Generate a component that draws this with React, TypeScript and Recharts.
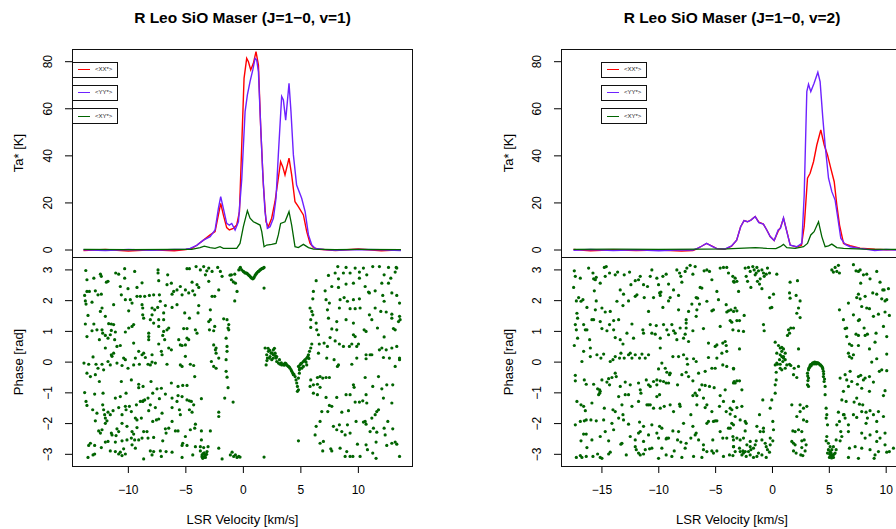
import { LineChart, Line, ScatterChart, Scatter, XAxis, YAxis } from 'recharts';

const FONT = '"Liberation Sans", Arial, Helvetica, sans-serif';
const RED = '#ff0000';
const PURPLE = '#6e22ff';
const GREEN = '#006400';

// ---- spectra: [LSR velocity km/s, Ta* K] ----
const XX_V1 = [
  [-13.9, -0.2], [-12, 0.2], [-10, -0.4], [-8, 0.1], [-6, -0.3], [-5, 0.2], [-4.5, 0.6], [-4.05, 2.0],
  [-3.47, 4.2], [-2.89, 6.4], [-2.46, 7.8], [-2.17, 14.9], [-1.97, 19.8], [-1.74, 14.9], [-1.45, 9.5],
  [-1.22, 8.5], [-0.87, 9.2], [-0.58, 10.6], [-0.34, 16.3], [-0.14, 44.6], [0.06, 72.9], [0.29, 81.4],
  [0.44, 80], [0.64, 76.5], [0.87, 79.3], [1.1, 84.3], [1.31, 78.6], [1.51, 51.7], [1.74, 27.6],
  [1.97, 12], [2.17, 9.9], [2.46, 13.5], [2.75, 20.5], [3.04, 30.5], [3.24, 37.5], [3.42, 35.4],
  [3.62, 31.9], [3.97, 39], [4.2, 31.9], [4.49, 20.5], [4.78, 18.4], [5.22, 14.9], [5.51, 7.8],
  [5.8, 2.8], [6.1, 1.0], [6.6, 0.3], [8, -0.2], [10, 0.4], [12, -0.3], [13.7, 0.1],
];
const YY_V1 = [
  [-13.9, 0.1], [-12, -0.2], [-10, 0.2], [-8, -0.1], [-6, 0.2], [-5, 0.3], [-4.63, 0.7], [-4.05, 2.0],
  [-3.47, 4.2], [-2.89, 5.7], [-2.46, 8.5], [-2.17, 17.7], [-1.97, 22.7], [-1.74, 17.7], [-1.45, 11.3],
  [-1.22, 10.6], [-1.01, 11.3], [-0.72, 8.5], [-0.43, 12], [-0.14, 30], [0.15, 58.8], [0.35, 65.9],
  [0.58, 71.5], [0.82, 76.5], [1.02, 81.4], [1.16, 80.7], [1.31, 75.8], [1.45, 58.8], [1.68, 33.3],
  [1.88, 16.3], [2.09, 9.2], [2.32, 9.9], [2.61, 13.5], [2.84, 22], [3.04, 40.4], [3.33, 65.2],
  [3.48, 63.7], [3.68, 55.2], [3.97, 70.8], [4.14, 58.8], [4.35, 40.4], [4.63, 27.6], [5.07, 22],
  [5.37, 16.3], [5.66, 6.4], [5.95, 2.1], [6.24, 0.7], [7, 0.2], [8, -0.1], [10, 0.2], [12, 0.1], [13.7, -0.2],
];
const XY_V1 = [
  [-13.9, 0.3], [-10, 0.2], [-6, 0.3], [-4.5, 0.3], [-3.76, 1.0], [-3.4, 1.6], [-2.89, 1.0], [-2.46, 0.7],
  [-2.03, 1.4], [-1.74, 0.7], [-0.58, 0.7], [-0.29, 2.8], [0.0, 9.9], [0.35, 16.7], [0.58, 13.5],
  [0.87, 12], [1.16, 11.3], [1.45, 10.6], [1.6, 7.8], [1.8, 1.4], [2.03, 2.1], [2.46, 2.4], [2.84, 2.8],
  [3.04, 6.4], [3.24, 11.3], [3.62, 12], [3.97, 16.3], [4.2, 10.6], [4.49, 1.4], [4.78, 1.0],
  [5.22, 2.4], [5.66, 1.0], [6.1, 0.4], [8, 0.2], [10, 0.3], [13.7, 0.2],
];

const XX_V2 = [
  [-17.5, 0.2], [-16, -0.3], [-14, 0.1], [-12, -0.2], [-10, 0.0], [-8, -0.4], [-7, -0.2], [-6.65, 0.5],
  [-6.2, 1.7], [-5.8, 2.8], [-5.35, 1.8], [-4.9, 0.6], [-4.2, 0.3], [-3.6, 1.6], [-3.15, 4.2],
  [-2.8, 9.9], [-2.5, 12.5], [-2.2, 12], [-1.9, 12.7], [-1.52, 14.2], [-1.2, 11.8], [-0.8, 11],
  [-0.5, 8.5], [-0.2, 5.7], [0.15, 4.0], [0.5, 8.0], [0.7, 9.5], [0.97, 13.5], [1.26, 8], [1.56, 2.1],
  [2.1, 1.3], [2.55, 2.0], [2.79, 10], [2.88, 16.3], [3.08, 30.5], [3.31, 32.6], [3.61, 37.5],
  [3.9, 44.6], [4.25, 51], [4.55, 44.6], [4.84, 40.4], [5.13, 34.7], [5.43, 29], [5.66, 19.1],
  [5.9, 10.6], [6.25, 2.8], [6.83, 1.8], [7.7, 0.8], [9, 0.3], [10, 0.1], [11.2, 0.2],
];
const YY_V2 = [
  [-17.5, -0.1], [-16, 0.2], [-14, -0.2], [-12, 0.1], [-10, -0.3], [-8, 0.1], [-7, 0.0], [-6.65, 0.6],
  [-6.2, 1.7], [-5.8, 2.8], [-5.35, 1.7], [-4.9, 0.6], [-4.2, 0.4], [-3.6, 1.7], [-3.15, 4.2],
  [-2.8, 9.9], [-2.5, 12.5], [-2.2, 12], [-1.9, 12.7], [-1.52, 14.2], [-1.2, 11.6], [-0.8, 11],
  [-0.5, 8.5], [-0.2, 5.7], [0.15, 4.0], [0.5, 8.5], [0.7, 9.2], [0.97, 13.7], [1.26, 7.8], [1.56, 2.1],
  [2.14, 1.4], [2.58, 2.8], [2.79, 23.4], [3.02, 67.3], [3.17, 70.4], [3.37, 67.3], [3.66, 70.8],
  [3.99, 75.5], [4.19, 71.5], [4.43, 55.9], [4.63, 44.6], [4.93, 30.5], [5.22, 24.8], [5.51, 21.2],
  [5.75, 13.5], [6.01, 5], [6.39, 2.4], [6.83, 1.4], [7.7, 0.7], [9, -0.2], [10, 0.2], [11.2, -0.1],
];
const XY_V2 = [
  [-17.5, 0.3], [-14, 0.4], [-10, 0.3], [-6, 0.4], [-4, 0.5], [-2.5, 0.8], [-1.5, 1.0], [-0.5, 0.7],
  [0.3, 0.6], [0.68, 1.4], [0.97, 2.4], [1.26, 1.0], [2.0, 0.7], [2.73, 1.4], [3.08, 2.8], [3.37, 6.4],
  [3.66, 7.8], [4.05, 12], [4.34, 5.7], [4.63, 1.4], [4.93, 1.8], [5.22, 2.5], [5.66, 1.0], [6.25, 0.7],
  [8, 0.4], [11.2, 0.3],
];

// ---- cross-correlation phase: [LSR velocity km/s, phase rad] ----
const PHASE_V1 = [
  [-13.7, 2.98], [-11.1, 2.9], [-10.84, 2.86], [-10.32, 3.04], [-9.45, 2.95], [-7.42, 3.0], [-7.42, 2.9], [-6.58, 2.84],
  [-4.9, 3.04], [-4.69, 3.04], [-4.11, 3.11], [-3.74, 3.0], [-3.45, 3.11], [-3.18, 2.97], [-3.01, 3.06], [-2.72, 2.95],
  [-2.23, 3.08], [-2.0, 2.95], [-1.85, 2.79], [-0.75, 2.86], [-0.4, 3.0], [-0.26, 3.08], [-1.04, 2.84],
  [-13.6, 2.68], [-13.0, 2.73], [-12.35, 2.79], [-12.43, 2.86], [-11.91, 2.6], [-11.77, 2.63], [-10.7, 2.46], [-10.32, 2.73],
  [-10.03, 2.39], [-9.25, 2.43], [-8.81, 2.58], [-7.36, 2.65], [-6.64, 2.52], [-6.26, 2.57], [-6.06, 2.3], [-5.77, 2.35],
  [-5.48, 2.46], [-5.04, 2.35], [-4.46, 2.6], [-4.4, 2.32], [-4.03, 2.52], [-3.88, 2.43], [-3.3, 2.84], [-3.01, 2.63],
  [-2.14, 2.35], [-1.04, 2.68], [-0.69, 2.57], [-0.55, 2.3], [-1.16, 2.83], [-0.87, 2.61],
  [-13.8, 2.17], [-13.6, 2.3], [-13.74, 1.99], [-13.39, 2.3], [-12.87, 2.32], [-12.64, 2.19], [-12.35, 2.21], [-10.61, 2.19],
  [-10.26, 2.03], [-9.83, 2.03], [-9.68, 1.92], [-9.25, 2.14], [-8.96, 2.14], [-8.58, 2.14], [-8.17, 2.17], [-7.8, 2.19],
  [-7.22, 1.98], [-7.3, 2.19], [-6.2, 2.21], [-5.33, 2.19], [-4.75, 2.25], [-4.23, 2.19], [-2.72, 2.14], [-2.49, 2.14], [-0.75, 1.99],
  [-13.68, 1.89], [-13.16, 1.95], [-12.29, 1.76], [-12.43, 1.65], [-11.28, 1.87], [-12.0, 1.49], [-9.97, 1.67], [-8.81, 1.87],
  [-8.75, 1.76], [-7.94, 1.76], [-7.71, 1.7], [-7.45, 1.78], [-8.75, 1.54], [-7.94, 1.54], [-6.78, 1.84], [-6.93, 1.6],
  [-6.2, 1.78], [-5.77, 1.87], [-5.1, 1.6], [-4.69, 1.43], [-3.88, 1.84], [-3.94, 1.6], [-2.87, 1.7], [-2.87, 1.38],
  [-1.71, 1.41], [-1.42, 1.38],
  [-13.51, 1.52], [-8.67, 1.43], [-8.09, 1.38], [-7.36, 1.38], [-7.8, 1.27], [-6.93, 1.38], [-13.74, 1.24], [-13.0, 1.24],
  [-11.71, 1.25], [-11.48, 1.24], [-11.28, 1.22], [-9.68, 1.16], [-9.54, 1.22], [-9.97, 1.11], [-7.36, 1.16], [-6.49, 1.11],
  [-11.48, 1.03], [-12.23, 0.94], [-13.16, 1.02], [-12.73, 1.05], [-12.29, 1.05], [-12.0, 0.87], [-11.13, 0.98], [-10.26, 0.98],
  [-8.23, 0.94], [-6.93, 1.0], [-6.64, 1.05], [-5.19, 1.09], [-4.9, 1.09], [-4.17, 1.05], [-4.03, 0.94], [-3.01, 1.32],
  [-2.95, 1.05], [-2.49, 1.16], [-2.58, 1.02], [-1.27, 1.22], [-1.33, 1.11], [-1.27, 1.05],
  [-13.6, 0.83], [-12.52, 0.73], [-11.77, 0.78], [-11.57, 0.89], [-11.19, 0.73], [-10.99, 0.51], [-10.7, 0.54], [-9.54, 0.62],
  [-8.23, 0.83], [-8.23, 0.73], [-7.36, 0.59], [-7.01, 0.87], [-6.84, 0.73], [-5.62, 0.73], [-5.48, 0.56], [-5.33, 0.54],
  [-4.9, 0.78], [-4.75, 0.73], [-5.04, 0.56], [-2.58, 0.56], [-1.5, 0.78], [-1.42, 0.51], [-2.37, 0.46],
  [-12.0, 0.46], [-11.48, 0.24], [-11.28, 0.29], [-11.42, 0.19], [-10.41, 0.13], [-10.26, 0.08], [-9.39, 0.13], [-9.1, 0.35],
  [-8.81, 0.24], [-8.67, 0.29], [-8.52, 0.15], [-7.94, 0.24], [-7.07, 0.24], [-7.13, 0.35], [-6.49, 0.46], [-6.26, 0.4],
  [-5.04, 0.19], [-2.43, 0.4], [-2.37, 0.29], [-2.14, 0.13], [-1.42, 0.35], [-1.5, 0.08],
  [-13.86, -0.03], [-13.45, -0.07], [-13.07, 0.17], [-12.81, -0.07], [-12.64, -0.2], [-12.29, -0.07], [-11.77, 0.02], [-11.57, -0.09],
  [-10.99, -0.03], [-10.55, -0.11], [-10.03, -0.2], [-9.54, -0.09], [-9.04, -0.07], [-8.29, -0.07], [-8.09, -0.09], [-7.94, 0.0],
  [-7.65, -0.03], [-6.64, -0.07], [-5.48, -0.09], [-5.33, -0.14], [-4.61, -0.07], [-4.32, -0.11], [-2.78, 0.02], [-2.58, -0.14],
  [-2.37, -0.2], [-1.5, -0.3], [-13.6, -0.36], [-13.3, -0.47], [-12.87, -0.41], [-12.15, -0.25],
  [-12.52, -0.63], [-10.61, -0.63], [-9.74, -0.58], [-9.1, -0.72], [-8.72, -0.79], [-8.03, -0.63], [-7.51, -0.87], [-7.13, -0.85],
  [-6.26, -0.68], [-5.68, -0.79], [-5.27, -0.76], [-4.9, -0.76], [-4.23, -0.47], [-1.42, -0.49],
  [-13.8, -0.99], [-12.93, -1.04], [-12.2, -1.01], [-13.68, -1.28], [-13.6, -1.41], [-11.13, -1.17], [-10.7, -1.12], [-10.2, -1.01],
  [-9.1, -0.83], [-8.75, -1.28], [-8.58, -1.23], [-8.29, -1.17], [-7.88, -1.01], [-7.3, -1.19], [-6.78, -1.04], [-6.2, -1.17],
  [-5.68, -1.09], [-5.77, -1.28], [-5.33, -1.12], [-4.9, -1.23], [-4.69, -1.26], [-4.52, -1.28], [-4.32, -1.39], [-3.65, -1.19],
  [-1.62, -1.17], [-0.89, -1.3], [-1.33, -0.83],
  [-13.1, -1.55], [-12.73, -1.66], [-12.23, -1.39], [-12.15, -1.55], [-12.06, -1.71], [-11.77, -1.63], [-11.33, -1.58], [-10.84, -1.48],
  [-10.26, -1.44], [-10.2, -1.55], [-9.91, -1.44], [-9.74, -1.61], [-9.3, -1.39], [-8.96, -1.28], [-8.72, -1.26], [-8.23, -1.58],
  [-8.09, -1.39], [-7.65, -1.48], [-7.07, -1.66], [-6.2, -1.48], [-5.56, -1.55], [-5.48, -1.71], [-4.69, -1.55], [-4.46, -1.63],
  [-2.14, -1.63], [-2.14, -1.77], [-12.87, -1.91], [-12.0, -1.82], [-11.86, -1.91], [-11.57, -1.71], [-10.55, -1.71], [-9.39, -1.82],
  [-9.25, -1.88], [-8.87, -1.82], [-7.88, -1.93], [-7.56, -1.88], [-7.36, -1.85],
  [-12.58, -2.24], [-12.29, -2.2], [-12.0, -1.99], [-11.48, -2.31], [-10.99, -2.17], [-10.84, -2.26], [-10.55, -1.99], [-10.12, -2.09],
  [-9.68, -2.26], [-9.54, -2.34], [-8.67, -2.26], [-9.25, -2.13], [-8.38, -2.26], [-6.78, -2.17], [-6.49, -2.15], [-6.2, -1.93],
  [-5.91, -2.24], [-5.68, -2.24], [-4.61, -2.2], [-4.23, -2.15], [-4.17, -2.02], [-3.65, -2.24], [-2.87, -2.24],
  [-12.43, -2.31], [-11.42, -2.37], [-11.07, -2.39], [-11.13, -2.6], [-10.55, -2.56], [-10.12, -2.53], [-9.74, -2.47], [-9.45, -2.53],
  [-9.1, -2.53], [-8.81, -2.47], [-8.29, -2.47], [-7.8, -2.45], [-7.01, -2.56], [-6.72, -2.31], [-5.04, -2.42], [-5.27, -2.64],
  [-4.17, -2.75], [-3.65, -2.53],
  [-13.3, -2.64], [-13.45, -2.71], [-12.93, -2.71], [-12.35, -2.78], [-12.0, -2.6], [-11.77, -2.58], [-11.57, -2.89], [-11.13, -2.91],
  [-10.84, -2.99], [-10.55, -3.04], [-10.41, -2.82], [-10.7, -2.93], [-10.26, -2.99], [-9.68, -2.69], [-9.39, -2.8], [-8.09, -2.89],
  [-7.8, -2.91], [-7.22, -2.89], [-6.72, -2.91], [-6.2, -2.93], [-5.33, -2.71], [-4.9, -2.71], [-4.4, -3.02], [-3.74, -2.75],
  [-3.74, -2.89], [-3.59, -3.02], [-3.45, -3.1], [-3.3, -3.02], [-3.16, -2.91], [-3.45, -2.78], [-3.07, -2.75], [-2.14, -2.8],
  [-1.85, -3.15], [-1.13, -3.02], [-0.98, -2.93], [-0.84, -3.07], [-0.69, -3.02], [-0.55, -3.1], [-0.4, -3.07], [-13.51, -3.1],
  [-13.07, -3.02], [-12.93, -2.99], [-8.67, -3.15], [-7.94, -3.02], [-7.13, -3.07], [-5.33, -3.1], [-3.53, -3.13],
  [-3.4, -2.95], [-3.35, -3.05], [-3.5, -2.98], [-3.3, -3.1], [-3.6, -3.08], [-3.2, -3.0],
  // coherent emission near 0-2 km/s
  [-0.29, 3.06], [-0.14, 3.0], [0.0, 2.95], [0.07, 2.93], [0.15, 2.9], [0.22, 2.9], [0.29, 2.9], [0.36, 2.87], [0.44, 2.84],
  [0.5, 2.82], [0.58, 2.79], [0.65, 2.76], [0.73, 2.73], [0.82, 2.71], [0.88, 2.73], [0.93, 2.76], [1.02, 2.82], [1.09, 2.86],
  [1.16, 2.9], [1.24, 2.93], [1.31, 2.95], [1.38, 2.97], [1.45, 3.0], [1.53, 3.02], [1.6, 3.04], [1.67, 3.05], [1.74, 3.06],
  [1.8, 3.08], [1.8, 2.41], [4.79, -2.56], [1.8, -3.09], [-0.29, -3.09],
  // coherent emission near 2-6 km/s
  [1.89, 0.46], [2.03, 0.24], [1.98, -0.09], [2.18, 0.35], [2.32, 0.18], [2.47, 0.08], [2.61, 0.4], [2.76, 0.29], [2.61, 0.13],
  [2.85, 0.13], [2.9, 0.02], [3.05, -0.03], [3.19, -0.07], [3.34, -0.09], [3.48, -0.07], [3.63, -0.03], [3.77, -0.09], [3.92, -0.14],
  [4.06, -0.2], [4.21, -0.3], [4.3, -0.36], [4.35, -0.41], [4.5, -0.47], [4.58, -0.58], [4.64, -0.68], [4.7, -0.79], [4.79, -0.9],
  [4.7, -0.95], [4.79, -0.52], [4.87, -0.25], [4.93, -0.09], [5.08, -0.03], [5.22, 0.02], [5.37, 0.08], [5.51, 0.13], [5.66, 0.24],
  [5.75, 0.35], [5.86, 0.46], [5.95, 0.59], [5.22, -0.14], [5.51, -0.09], [5.08, -0.2], [2.61, 0.24], [2.26, 0.13], [2.09, 0.13],
  [2.41, 0.29], [2.9, 0.18], [3.14, 0.08], [4.79, -0.14], [4.87, -0.36], [2.05, 0.05], [2.15, 0.45], [2.3, 0.38], [2.5, 0.3],
  [2.7, 0.45], [2.8, 0.2], [3.3, -0.02], [3.55, -0.1], [3.7, -0.05], [3.85, -0.12], [4.0, -0.16], [4.15, -0.25], [4.4, -0.4],
  [5.0, -0.05], [5.3, 0.05], [5.45, 0.0], [5.6, 0.18], [5.7, 0.12], [4.9, -0.2],
  // noise above 6 km/s
  [8.21, 3.11], [8.93, 3.08], [9.72, 3.06], [10.44, 3.06], [11.25, 3.11], [11.83, 3.11], [12.62, 3.08], [13.29, 3.08], [7.4, 2.82],
  [7.98, 2.9], [8.7, 2.9], [9.28, 2.9], [10.09, 2.93], [10.73, 2.84], [12.24, 2.84], [13.2, 2.93], [13.34, 3.06], [8.27, 2.71],
  [8.93, 2.54], [9.57, 2.57], [10.09, 2.73], [12.04, 2.57], [12.62, 2.57], [12.82, 2.73], [6.33, 2.65], [7.11, 2.32], [7.69, 2.46],
  [8.27, 2.43], [10.88, 2.28], [11.46, 2.32], [10.96, 2.25], [6.09, 2.3], [6.04, 2.06], [7.19, 2.03], [7.48, 1.92], [8.41, 2.03],
  [8.76, 2.1], [9.05, 1.98], [9.57, 2.03], [10.09, 2.06], [10.59, 2.46], [12.12, 2.17], [12.24, 1.98], [12.91, 2.25], [13.34, 2.17],
  [13.58, 1.92], [5.8, 1.76], [5.95, 1.65], [7.31, 1.7], [8.35, 1.76], [9.28, 1.74], [9.72, 1.74], [10.15, 1.76], [11.46, 1.76],
  [11.95, 1.65], [12.42, 1.63], [12.91, 1.56], [13.58, 1.49], [13.63, 1.38], [5.86, 1.38], [6.04, 1.54], [7.4, 1.43], [8.12, 1.32],
  [8.93, 1.38], [9.57, 1.27], [10.96, 1.54], [11.17, 1.38], [12.91, 1.43], [13.49, 1.32], [6.33, 1.27], [6.38, 1.05], [6.53, 0.89],
  [5.86, 1.13], [7.69, 1.08], [8.12, 1.05], [9.57, 0.89], [9.72, 0.83], [10.5, 1.05], [10.67, 1.0], [11.66, 1.11], [12.24, 0.82],
  [13.2, 1.05], [13.05, 1.09], [6.6, 0.59], [7.02, 0.62], [7.31, 0.51], [7.54, 0.8], [7.98, 0.69], [8.35, 0.59], [8.7, 0.51],
  [9.22, 0.51], [9.43, 0.59], [9.86, 0.51], [10.01, 0.59], [10.67, 0.24], [11.02, 0.24], [11.83, 0.4], [12.04, 0.46], [12.42, 0.4],
  [12.91, 0.46], [13.58, 0.08], [13.34, 0.51], [6.53, 0.29], [7.25, 0.13], [7.89, 0.08], [8.27, -0.09], [8.18, -0.14], [9.43, -0.07],
  [9.86, 0.13], [10.67, 0.11], [11.17, 0.24], [12.18, 0.15], [12.7, 0.13], [13.2, -0.14], [13.58, 0.13], [5.8, -0.79], [5.86, -0.58],
  [6.09, -0.74], [6.44, -0.5], [6.67, -0.47], [6.9, -0.52], [7.19, -0.5], [7.48, -0.5], [6.44, -0.72], [6.67, -0.82], [6.09, -1.01],
  [6.44, -1.06], [7.19, -1.15], [8.12, -1.15], [8.93, -1.06], [9.28, -1.06], [9.57, -0.74], [9.63, -0.82], [10.59, -0.5],
  [10.67, -1.06], [11.25, -0.79], [11.75, -0.47], [12.04, -0.87], [12.18, -1.17], [12.47, -0.74], [12.99, -0.74], [12.91, -1.33],
  [7.48, -1.41], [7.69, -1.44], [7.34, -1.61], [6.82, -1.61], [8.56, -1.63], [9.14, -1.58], [9.72, -1.3], [10.09, -1.3], [10.38, -1.26],
  [10.73, -1.33], [11.6, -1.61], [11.75, -1.55], [11.46, -1.71], [11.17, -1.82], [10.59, -1.93], [11.31, -2.15], [12.24, -2.15],
  [12.56, -1.93], [12.99, -2.17], [6.33, -2.09], [6.24, -2.37], [6.67, -1.93], [7.83, -2.09], [8.12, -2.2], [8.35, -2.04],
  [8.56, -2.26], [9.05, -2.04], [8.85, -2.37], [9.28, -2.31], [9.8, -1.93], [10.44, -1.95], [10.67, -2.02], [11.02, -2.26],
  [11.6, -2.28], [12.33, -2.37], [6.67, -2.64], [6.96, -2.58], [6.9, -2.89], [7.6, -2.82], [7.69, -2.89], [8.41, -2.8], [8.99, -2.91],
  [9.28, -3.07], [9.92, -2.67], [10.15, -3.07], [10.67, -2.69], [10.79, -2.85], [11.25, -2.96], [11.54, -2.6], [11.54, -3.13],
  [12.47, -2.71], [12.91, -2.64], [13.2, -2.6], [13.34, -2.67], [13.58, -3.07], [8.85, -3.07], [9.52, -3.07],
];

const PHASE_V2 = [
  [-17.43, 2.97], [-17.34, 2.79], [-17.49, 2.43], [-16.9, 2.73], [-16.17, 3.06], [-15.79, 2.9], [-15.73, 2.71], [-15.58, 2.68],
  [-15.5, 2.76], [-15.67, 2.32], [-15.15, 2.57], [-14.79, 3.08], [-14.62, 3.11], [-14.71, 2.79], [-14.33, 2.9], [-13.83, 2.84],
  [-13.62, 2.93], [-13.39, 2.35], [-13.04, 2.84], [-13.1, 2.21], [-12.57, 2.93], [-12.45, 2.52], [-12.07, 2.65], [-11.78, 2.68],
  [-11.63, 2.79], [-11.34, 2.52], [-10.99, 2.46], [-10.75, 2.79], [-10.61, 3.0], [-10.17, 2.73], [-10.02, 2.52], [-9.93, 2.25],
  [-9.87, 2.17], [-9.64, 2.79], [-9.35, 2.86], [-9.14, 2.54], [-8.7, 2.35], [-8.41, 3.0], [-8.17, 2.9], [-8.06, 2.79], [-7.97, 2.6],
  [-7.68, 2.95], [-7.53, 3.06], [-7.24, 3.15], [-7.0, 2.86], [-6.8, 3.11], [-6.36, 2.43], [-6.21, 2.41], [-6.01, 2.97], [-5.77, 3.0],
  [-5.54, 2.95], [-5.33, 2.68], [-4.89, 2.3], [-4.6, 3.06], [-4.31, 3.08], [-4.02, 3.08], [-3.87, 2.9], [-3.49, 2.79], [-3.37, 2.6],
  [-17.25, 1.99], [-17.05, 2.1], [-16.84, 1.98], [-16.67, 2.03], [-16.32, 1.78], [-15.5, 1.99], [-15.58, 1.7], [-15.0, 1.76],
  [-14.71, 1.63], [-14.27, 1.65], [-13.68, 1.98], [-13.15, 1.84], [-12.66, 1.99], [-12.07, 2.14], [-11.92, 2.19], [-11.28, 2.1],
  [-10.9, 1.65], [-10.46, 2.1], [-9.81, 2.28], [-9.64, 1.78], [-9.14, 1.99], [-9.0, 2.1], [-8.26, 1.7], [-8.26, 2.17], [-7.38, 1.65],
  [-7.09, 1.89], [-6.71, 2.1], [-6.59, 2.08], [-6.42, 1.89], [-6.71, 1.49], [-6.65, 1.7], [-5.77, 1.98], [-5.33, 1.67], [-5.19, 1.7],
  [-4.75, 2.03], [-4.07, 1.87], [-4.02, 1.63], [-3.87, 1.67], [-3.66, 1.7],
  [-17.2, 1.59], [-17.14, 1.43], [-17.34, 1.22], [-17.25, 1.05], [-17.14, 0.78], [-17.43, 0.54], [-16.61, 1.22], [-16.46, 1.05],
  [-16.32, 1.05], [-15.88, 1.38], [-15.73, 1.38], [-16.08, 0.73], [-16.02, 0.46], [-15.15, 1.32], [-15.0, 1.09], [-14.56, 1.02],
  [-14.33, 1.22], [-13.97, 1.35], [-13.53, 1.38], [-13.97, 1.05], [-13.83, 0.8], [-13.39, 0.73], [-13.15, 0.59], [-12.8, 0.94],
  [-12.36, 1.24], [-12.22, 0.78], [-11.4, 1.05], [-11.34, 0.94], [-10.75, 1.22], [-10.61, 0.94], [-10.31, 0.91], [-10.22, 1.19],
  [-9.87, 0.78], [-9.87, 0.46], [-9.58, 1.22], [-9.29, 1.05], [-9.14, 0.89], [-8.7, 1.02], [-8.56, 0.94], [-8.41, 0.73], [-8.85, 1.22],
  [-8.12, 1.11], [-7.82, 0.78], [-7.68, 0.91], [-7.59, 1.11], [-7.59, 1.27], [-7.59, 1.38], [-7.38, 0.67], [-7.0, 1.02], [-6.07, 1.09],
  [-5.63, 0.62], [-5.04, 0.51], [-4.89, 0.56], [-4.6, 1.16], [-4.37, 0.62], [-4.16, 0.67], [-4.07, 0.54], [-3.58, 1.3], [-4.02, 0.35],
  [-16.76, 0.02], [-16.61, 0.35], [-16.02, 0.18], [-15.44, 0.24], [-15.09, 0.13], [-14.85, 0.26], [-14.27, 0.02], [-14.03, 0.08],
  [-13.83, 0.18], [-13.33, 0.29], [-13.45, 0.13], [-13.04, 0.13], [-12.51, 0.29], [-12.36, 0.13], [-12.66, 0.24], [-12.07, 0.24],
  [-11.69, 0.13], [-11.48, 0.26], [-11.19, 0.13], [-10.9, 0.24], [-10.02, -0.22], [-9.73, -0.03], [-9.43, -0.2], [-9.29, -0.33],
  [-9.05, -0.41], [-8.76, 0.18], [-8.26, 0.18], [-7.82, 0.24], [-7.53, 0.11], [-7.47, -0.07], [-7.38, -0.47], [-6.94, 0.11],
  [-6.71, 0.02], [-6.5, -0.36], [-5.92, -0.3], [-5.63, 0.15], [-5.33, -0.2], [-5.04, -0.2], [-4.89, 0.13], [-4.45, 0.29], [-4.37, -0.09],
  [-4.02, -0.14], [-3.43, -0.2], [-3.37, -0.63],
  [-17.34, -0.43], [-17.34, -0.61], [-16.55, -0.58], [-16.38, -0.72], [-15.73, -0.72], [-15.38, -0.87], [-15.29, -1.06], [-15.15, -0.95],
  [-15.0, -0.58], [-14.41, -0.54], [-14.33, -0.74], [-14.56, -0.65], [-14.12, -0.5], [-13.83, -0.36], [-13.74, -0.47], [-13.39, -0.79],
  [-12.95, -0.65], [-12.51, -0.74], [-11.78, -0.68], [-11.63, -0.9], [-11.1, -0.58], [-10.9, -0.74], [-10.75, -0.79], [-10.46, -0.63],
  [-10.17, -0.58], [-10.17, -0.74], [-9.87, -0.61], [-9.58, -0.63], [-9.35, -0.68], [-9.14, -0.68], [-9.0, -0.36], [-8.35, -0.74],
  [-7.97, -0.41], [-7.59, -0.33], [-7.0, -0.61], [-6.8, -1.01], [-6.65, -1.09], [-6.42, -0.9], [-6.21, -0.74], [-5.92, -0.76],
  [-5.54, -0.79], [-5.13, -0.83], [-4.6, -1.09], [-4.16, -0.9], [-3.43, -0.68],
  [-17.2, -1.28], [-16.84, -1.39], [-16.61, -1.44], [-16.46, -1.58], [-15.88, -1.33], [-15.2, -0.9], [-15.2, -1.01], [-14.79, -1.5],
  [-14.03, -1.55], [-13.83, -1.61], [-13.53, -1.12], [-13.24, -1.39], [-13.15, -1.71], [-12.95, -1.06], [-12.66, -1.06], [-12.36, -1.44],
  [-11.78, -1.28], [-11.57, -1.01], [-11.04, -1.39], [-10.9, -1.39], [-10.75, -1.39], [-10.46, -1.5], [-10.17, -1.12], [-9.93, -1.06],
  [-9.87, -1.5], [-9.52, -1.44], [-9.0, -1.39], [-8.7, -1.61], [-8.17, -1.37], [-8.12, -1.44], [-7.18, -1.71], [-7.0, -1.09],
  [-6.65, -1.39], [-6.07, -1.17], [-5.92, -1.48], [-5.77, -1.39], [-5.33, -1.61], [-5.04, -1.91], [-4.66, -1.44], [-4.31, -1.28],
  [-4.07, -1.61], [-3.72, -1.69], [-3.43, -1.28],
  [-17.34, -2.04], [-16.9, -1.93], [-16.55, -1.91], [-16.38, -1.88], [-15.97, -1.88], [-15.5, -1.91], [-14.85, -1.88], [-14.12, -1.99],
  [-13.53, -1.82], [-13.1, -1.88], [-12.66, -2.02], [-11.69, -1.95], [-11.34, -2.09], [-11.63, -2.26], [-10.61, -2.04], [-10.17, -2.31],
  [-9.93, -2.09], [-9.73, -2.15], [-9.29, -2.47], [-8.76, -2.24], [-8.26, -2.26], [-7.82, -1.99], [-7.0, -2.09], [-6.71, -2.31],
  [-6.5, -2.53], [-5.63, -1.93], [-5.77, -1.99], [-5.19, -1.93], [-4.89, -1.91], [-4.6, -2.26], [-3.87, -2.15], [-3.58, -1.99],
  [-3.43, -2.04],
  [-16.61, -2.34], [-16.38, -2.34], [-16.84, -2.56], [-15.88, -2.53], [-15.15, -2.42], [-14.71, -2.26], [-14.41, -2.56], [-13.97, -2.2],
  [-13.24, -2.64], [-12.51, -2.42], [-12.07, -2.53], [-11.78, -2.31], [-11.34, -2.58], [-10.9, -2.37], [-10.02, -2.47], [-9.35, -2.5],
  [-9.14, -2.47], [-8.35, -2.53], [-8.06, -2.6], [-7.59, -2.64], [-7.18, -2.47], [-6.8, -2.37], [-6.07, -2.69], [-5.25, -2.53],
  [-4.37, -2.47], [-4.02, -2.47], [-3.43, -2.53],
  [-17.25, -3.1], [-16.9, -3.04], [-16.76, -3.1], [-16.38, -3.07], [-16.32, -2.78], [-15.79, -3.07], [-15.38, -2.99], [-15.15, -3.1],
  [-15.0, -3.13], [-14.41, -2.99], [-14.27, -2.93], [-13.33, -2.67], [-12.86, -3.02], [-12.07, -2.75], [-11.98, -2.85], [-11.78, -2.96],
  [-11.63, -3.02], [-11.34, -2.99], [-11.19, -2.85], [-10.81, -2.82], [-10.61, -2.8], [-10.02, -3.13], [-9.73, -2.8], [-9.35, -3.02],
  [-8.85, -3.07], [-8.64, -2.89], [-7.97, -3.1], [-7.68, -2.8], [-6.94, -3.07], [-6.21, -3.1], [-6.07, -2.85], [-5.77, -2.91],
  [-5.33, -2.89], [-5.19, -2.96], [-4.89, -2.89], [-4.31, -3.07], [-3.78, -3.02], [-3.43, -2.75],
  // -3.7 .. 11 km/s
  [-2.4, 3.06], [-2.11, 3.08], [-1.96, 2.95], [-1.73, 3.11], [-1.61, 3.0], [-1.52, 2.84], [-1.43, 2.9], [-1.37, 3.08], [-1.23, 2.97],
  [-0.93, 3.0], [-0.79, 2.9], [-0.73, 2.79], [-0.55, 2.86], [-0.44, 3.06], [-0.26, 2.9], [0.38, 2.86], [-2.31, 2.79], [-2.19, 2.63],
  [-1.9, 2.43], [-1.32, 2.63], [-1.08, 2.71], [-1.14, 2.54], [-0.93, 2.39], [-3.42, 2.63], [-3.13, 2.63], [-3.28, 2.73],
  [-2.98, 2.3], [-3.13, 1.67], [-3.42, 1.65], [-3.28, 1.76], [-3.72, 1.35], [-3.13, 1.35], [-2.9, 1.35], [-2.55, 1.0], [-2.49, 1.52],
  [-3.48, 1.05], [-2.98, 1.02], [0.09, 2.21], [-0.26, 2.1], [-0.06, 1.78], [-0.2, 1.76], [-0.79, 1.22], [-0.73, 1.02], [-2.9, 0.43],
  [-3.42, -0.22], [-3.13, -0.61], [-3.28, -0.68], [-2.69, -0.9], [-2.9, -0.61],
  [1.55, 2.6], [2.2, 2.65], [1.5, 2.25], [1.55, 2.08], [2.08, 2.17], [2.43, 1.99], [2.29, 1.76], [2.14, 1.59], [2.43, 1.45], [1.85, 1.11],
  [1.61, 1.11], [1.41, 1.05], [1.32, 0.87], [1.5, 0.94], [2.29, 0.43],
  [0.24, 0.65], [0.53, 0.54], [0.68, 0.46], [0.82, 0.48], [0.97, 0.43], [0.38, 0.29], [0.68, 0.24], [0.82, 0.18], [0.97, 0.13],
  [1.12, 0.08], [0.62, 0.08], [0.38, -0.03], [0.24, -0.09], [0.44, -0.07], [0.68, -0.07], [0.91, 0.02], [0.97, 0.18], [1.12, 0.29],
  [0.82, 0.35], [1.26, -0.09], [1.5, -0.07], [1.61, -0.11], [0.68, -0.2], [0.82, -0.25], [0.33, -0.33], [1.12, -0.2], [1.91, -0.2],
  [1.85, -0.41], [2.29, -0.14], [2.14, -0.5], [0.33, -0.58], [0.24, -0.74], [0.24, -1.01], [-0.06, -1.23], [-0.2, -1.5], [0.03, -1.93],
  [0.09, -2.2], [0.03, -2.56], [-0.2, -2.69], [-0.85, -1.23],
  [-3.72, -1.5], [-3.57, -1.55], [-3.13, -1.48], [-2.69, -1.44], [-3.28, -1.77], [-2.84, -1.88], [-2.4, -1.93], [-2.31, -1.99],
  [-3.72, -2.15], [-3.48, -2.42], [-3.13, -2.47], [-2.84, -2.53], [-2.4, -2.24], [-2.55, -2.47], [-2.25, -2.69], [-1.96, -2.58],
  [-1.96, -2.75], [-1.9, -2.85], [-1.67, -2.8], [-1.52, -2.69], [-1.43, -2.56], [-1.37, -2.09], [-1.08, -2.26], [-0.79, -2.26],
  [-0.93, -2.53], [-0.64, -2.64], [-0.55, -2.75], [-0.79, -2.15], [-0.44, -2.85], [-0.26, -2.93], [-0.55, -3.1], [-0.93, -3.02],
  [-1.23, -2.96], [-1.37, -3.07], [-1.67, -3.1], [-1.96, -3.02], [-2.31, -3.07], [-2.55, -2.96], [-2.69, -3.02], [-2.84, -2.91],
  [-2.6, -2.89], [-2.4, -2.91], [-2.9, -2.8], [-3.42, -2.75], [-3.28, -2.91], [-3.48, -3.04], [-2.11, -2.91], [-1.14, -1.71], [-0.2, -2.47],
  [1.7, -1.39], [2.43, -1.39], [2.73, -1.5], [3.02, -1.44], [2.14, -1.77], [2.43, -1.61], [3.02, -1.93], [2.73, -1.88], [1.79, -2.24],
  [1.99, -2.26], [2.29, -2.2], [2.58, -2.26], [1.7, -2.58], [1.85, -2.64], [1.99, -2.69], [2.58, -2.56], [2.79, -2.53], [2.96, -2.69],
  [1.85, -2.89], [2.08, -2.96], [2.49, -3.02], [2.67, -3.04], [2.87, -2.89], [2.58, -2.78],
  [3.17, -0.25], [3.25, -0.17], [3.31, -0.11], [3.46, -0.07], [3.61, -0.03], [3.75, -0.03], [3.9, -0.02], [4.04, -0.04], [4.19, -0.09],
  [4.34, -0.14], [4.43, -0.22], [4.48, -0.3], [3.08, -0.36], [3.17, -0.52], [3.08, -0.74], [3.17, -0.79], [4.48, -0.47], [4.54, -0.63],
  [4.63, -0.79], [4.63, -1.06], [4.72, -1.5], [4.78, -1.71], [4.72, -1.82], [4.84, -2.04], [3.2, -0.2], [3.35, -0.08], [3.5, -0.05],
  [3.55, -0.02], [3.7, 0.0], [3.8, -0.01], [3.95, -0.03], [4.1, -0.06], [4.25, -0.1], [4.4, -0.18], [3.1, -0.45], [3.12, -0.6],
  [4.5, -0.38], [4.58, -0.55], [3.4, -0.12], [3.65, -0.06], [3.85, -0.06], [4.0, -0.02],
  [4.78, -2.42], [4.72, -2.56], [4.92, -2.64], [5.07, -2.75], [4.92, -2.85], [5.07, -2.91], [5.22, -3.02], [5.01, -3.1], [5.36, -3.1],
  [5.51, -2.96], [5.6, -2.85], [5.22, -2.85], [5.36, -2.75], [5.6, -2.53], [4.84, -2.96], [5.13, -3.07], [5.2, -3.12], [5.3, -3.05],
  [5.4, -3.0], [5.05, -3.0], [5.15, -2.95],
  [5.22, 3.0], [5.51, 3.08], [5.8, 3.15], [5.66, 2.95], [5.89, 2.9], [5.36, 2.93],
  [7.12, 3.17], [7.35, 2.97], [7.71, 3.0], [8.0, 2.84], [8.29, 2.86], [8.58, 2.71], [7.56, 2.95], [9.17, 2.95], [9.46, 2.6], [7.76, 2.57],
  [9.7, 2.35], [9.82, 2.35], [10.2, 2.39], [8.82, 2.25], [9.17, 2.21], [7.56, 2.21], [7.71, 2.06], [7.41, 2.1], [8.15, 2.14], [9.61, 2.06],
  [9.9, 1.99], [10.05, 2.03], [6.68, 1.92], [7.85, 1.81], [8.29, 1.76], [8.53, 1.74], [5.89, 1.7], [7.12, 1.54], [7.65, 1.38], [8.88, 1.49],
  [9.32, 1.56], [9.9, 1.63], [10.28, 1.52], [6.24, 1.38], [7.56, 1.35], [6.53, 1.11], [6.39, 1.09], [8.06, 1.11], [9.76, 1.16], [7.35, 0.91],
  [7.56, 0.87], [8.15, 0.87], [8.35, 0.91], [9.11, 0.94], [6.53, 0.83], [10.05, 0.83], [6.77, 0.59], [6.97, 0.54], [7.56, 0.54], [6.68, 0.29],
  [6.77, 0.18], [6.97, 0.13], [7.12, 0.24], [8.53, 0.43], [9.02, 0.65], [10.05, 0.26], [9.17, 0.11], [8.73, 0.0], [9.61, -0.25],
  [10.05, -0.28], [6.83, -0.3], [6.39, -0.41], [5.95, -0.52], [6.53, -0.58], [6.97, -0.63], [7.56, -0.47], [7.76, -0.43], [8.15, -0.52],
  [8.0, -0.58], [8.53, -0.47], [8.88, -0.65], [9.4, -0.3], [7.47, -0.72], [7.85, -0.85], [8.53, -0.95], [9.9, -0.93], [9.76, -1.09],
  [6.68, -0.79], [6.24, -0.95], [6.1, -1.23], [6.48, -1.28], [7.18, -1.3], [7.41, -1.17], [7.65, -1.37], [7.94, -1.39], [6.24, -1.71],
  [5.89, -1.93], [5.8, -1.63], [6.3, -1.71], [6.39, -1.82], [6.01, -2.26], [6.1, -2.42], [5.95, -2.56], [5.66, -2.04], [6.68, -2.04],
  [7.12, -1.71], [7.41, -1.8], [7.85, -1.61], [8.23, -1.63], [8.35, -1.82], [8.23, -1.99], [8.58, -1.58], [8.88, -1.71], [9.32, -1.61],
  [9.17, -1.93], [9.76, -1.77], [6.68, -2.26], [7.85, -2.31], [8.15, -2.47], [8.58, -2.37], [9.17, -2.26], [9.46, -2.47], [9.9, -2.31],
  [9.17, -2.58], [7.27, -2.75], [6.77, -2.8], [6.68, -3.1], [7.56, -3.13], [7.85, -2.8], [8.58, -2.85], [8.94, -3.13], [9.02, -3.02],
  [9.32, -2.91], [10.05, -2.93], [10.28, -2.91], [10.64, -2.8], [9.9, -2.69],
];

const SPEC_TICKS = [0, 20, 40, 60, 80];
const PHASE_TICKS = [-3, -2, -1, 0, 1, 2, 3];
const VEL_TICKS_V1 = [-10, -5, 0, 5, 10];
const VEL_TICKS_V2 = [-15, -10, -5, 0, 5, 10];
const LEGEND_ITEMS = [
  { label: '<XX*>', color: RED },
  { label: '<YY*>', color: PURPLE },
  { label: '<XY*>', color: GREEN },
];

const toSpec = (a: number[][]) => a.map(([v, t]) => ({ v, t }));
const toPhase = (a: number[][]) => a.map(([v, p]) => ({ v, p }));
const fmt = (n: number) => (n < 0 ? '\u2212' + Math.abs(n) : String(n));

const SPEC_TOP = 49;
const SPEC_H = 208;
const PH_TOP = 257;
const PH_H = 209;
const AXW = 50;

function YTick({ x, y, payload }: any) {
  return (
    <text transform={`translate(${x - 13},${y}) rotate(-90)`} textAnchor="middle" fontSize={12} fontFamily={FONT} fill="#000">
      {fmt(payload.value)}
    </text>
  );
}

function XTick({ x, y, payload }: any) {
  return (
    <text x={x} y={y + 21} textAnchor="middle" fontSize={12} fontFamily={FONT} fill="#000">
      {fmt(payload.value)}
    </text>
  );
}

const dotShape = (p: any) => <circle cx={p.cx} cy={p.cy} r={1.6} fill={GREEN} />;

interface PanelProps {
  title: string;
  plotLeft: number;
  plotWidth: number;
  xDomain: [number, number];
  xTicks: number[];
  xx: number[][];
  yy: number[][];
  xy: number[][];
  phase: number[][];
  labelX: number;
  legendLeft: number;
}

function Panel({ title, plotLeft, plotWidth, xDomain, xTicks, xx, yy, xy, phase, labelX, legendLeft }: PanelProps) {
  const centerX = plotLeft + plotWidth / 2;
  const rot = (x: number, y: number, text: string) => (
    <div style={{ position: 'absolute', left: x, top: y, transform: 'translate(-50%,-50%) rotate(-90deg)', whiteSpace: 'nowrap', fontSize: 13 }}>
      {text}
    </div>
  );
  return (
    <>
      <div style={{ position: 'absolute', left: centerX - 200, width: 400, top: 9, textAlign: 'center', fontWeight: 'bold', fontSize: 15.5 }}>
        {title}
      </div>
      {rot(labelX, SPEC_TOP + SPEC_H / 2, 'Ta* [K]')}
      {rot(labelX, PH_TOP + PH_H / 2, 'Phase [rad]')}
      <div style={{ position: 'absolute', left: centerX - 150, width: 300, top: 512, textAlign: 'center', fontSize: 13 }}>
        LSR Velocity [km/s]
      </div>

      <div style={{ position: 'absolute', left: plotLeft - AXW, top: SPEC_TOP - 5 }}>
        <LineChart width={AXW + plotWidth + 5} height={SPEC_H + 10} margin={{ top: 5, right: 5, bottom: 5, left: 0 }}>
          <XAxis type="number" dataKey="v" domain={xDomain} allowDataOverflow hide />
          <YAxis
            type="number"
            domain={[-2.97, 85.39]}
            ticks={SPEC_TICKS}
            allowDataOverflow
            width={AXW}
            axisLine={false}
            tickSize={7}
            tickMargin={0}
            tickLine={{ stroke: '#000' }}
            tick={<YTick />}
          />
          <Line data={toSpec(xx)} dataKey="t" stroke={RED} strokeWidth={1.4} dot={false} activeDot={false} isAnimationActive={false} />
          <Line data={toSpec(yy)} dataKey="t" stroke={PURPLE} strokeWidth={1.4} dot={false} activeDot={false} isAnimationActive={false} />
          <Line data={toSpec(xy)} dataKey="t" stroke={GREEN} strokeWidth={1.3} dot={false} activeDot={false} isAnimationActive={false} />
        </LineChart>
      </div>

      <div style={{ position: 'absolute', left: plotLeft - AXW, top: PH_TOP - 5 }}>
        <ScatterChart width={AXW + plotWidth + 5} height={PH_H + 45} margin={{ top: 5, right: 5, bottom: 5, left: 0 }}>
          <XAxis
            type="number"
            dataKey="v"
            domain={xDomain}
            ticks={xTicks}
            allowDataOverflow
            height={35}
            axisLine={false}
            tickSize={7}
            tickMargin={0}
            tickLine={{ stroke: '#000' }}
            tick={<XTick />}
          />
          <YAxis
            type="number"
            dataKey="p"
            domain={[-3.38, 3.42]}
            ticks={PHASE_TICKS}
            allowDataOverflow
            width={AXW}
            axisLine={false}
            tickSize={7}
            tickMargin={0}
            tickLine={{ stroke: '#000' }}
            tick={<YTick />}
          />
          <Scatter data={toPhase(phase)} shape={dotShape} isAnimationActive={false} />
        </ScatterChart>
      </div>

      <div style={{ position: 'absolute', left: plotLeft, top: SPEC_TOP, width: plotWidth, height: SPEC_H + 1, border: '1px solid #111', boxSizing: 'border-box' }} />
      <div style={{ position: 'absolute', left: plotLeft, top: PH_TOP, width: plotWidth, height: PH_H + 1, border: '1px solid #111', boxSizing: 'border-box' }} />

      {LEGEND_ITEMS.map((it, i) => (
        <div
          key={it.label}
          style={{ position: 'absolute', left: legendLeft, top: 61.5 + i * 23.4, width: 46, height: 16, border: '1px solid #111', background: '#fff', boxSizing: 'border-box' }}
        >
          <div style={{ position: 'absolute', left: 5, top: 6.5, width: 12, borderTop: `1px solid ${it.color}` }} />
          <div style={{ position: 'absolute', left: 22, top: 3.5, fontSize: 6, lineHeight: '7px', color: '#222' }}>{it.label}</div>
        </div>
      ))}
    </>
  );
}

export default function App() {
  return (
    <div style={{ position: 'absolute', left: 0, top: 0, width: 896, height: 529, overflow: 'hidden', background: '#fff', fontFamily: FONT, color: '#000' }}>
      <Panel
        title="R Leo SiO Maser (J=1−0, v=1)"
        plotLeft={72}
        plotWidth={341}
        xDomain={[-14.9, 14.75]}
        xTicks={VEL_TICKS_V1}
        xx={XX_V1}
        yy={YY_V1}
        xy={XY_V1}
        phase={PHASE_V1}
        labelX={18}
        legendLeft={72}
      />
      <Panel
        title="R Leo SiO Maser (J=1−0, v=2)"
        plotLeft={561}
        plotWidth={342}
        xDomain={[-18.6, 11.48]}
        xTicks={VEL_TICKS_V2}
        xx={XX_V2}
        yy={YY_V2}
        xy={XY_V2}
        phase={PHASE_V2}
        labelX={508}
        legendLeft={601}
      />
    </div>
  );
}
